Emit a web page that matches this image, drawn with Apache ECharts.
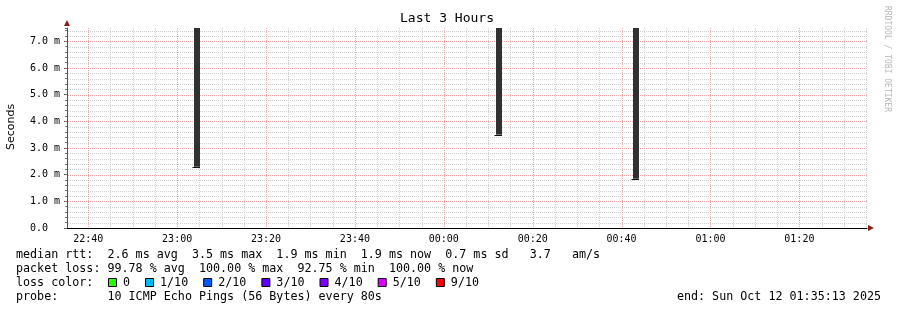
<!DOCTYPE html>
<html><head><meta charset="utf-8">
<script src="https://cdn.jsdelivr.net/npm/echarts@6/dist/echarts.min.js"></script>
<style>html,body{margin:0;padding:0;background:#fff}#c{width:897px;height:310px}</style>
</head><body><div id="c"></div>
<script>
// ---- data ----
const chartTitle = 'Last 3 Hours';
const rangeStart = '2025-10-11T22:35:13Z';
const rangeEnd = '2025-10-12T01:35:13Z';
const xTickLabels = ['22:40', '23:00', '23:20', '23:40', '00:00', '00:20', '00:40', '01:00', '01:20'];
const stepStarts = ['2025-10-11T23:03:50Z', '2025-10-12T00:11:50Z', '2025-10-12T00:42:30Z'];
const stepSeconds = 80;
const medianMs = [2.3, 3.5, 1.85];
const smokeTopMs = [7.5, 7.5, 7.5];
const yTickValues = [0, 1, 2, 3, 4, 5, 6, 7];
const yMin = 0, yMax = 7.5, yMajor = 1, yMinor = 0.2;
const xMinorMin = 5;
const statsLines = [
  'median rtt:  2.6 ms avg  3.5 ms max  1.9 ms min  1.9 ms now  0.7 ms sd   3.7   am/s',
  'packet loss: 99.78 % avg  100.00 % max  92.75 % min  100.00 % now'
];
const lossTitle = 'loss color:';
const lossLabels = ['0', '1/10', '2/10', '3/10', '4/10', '5/10', '9/10'];
const lossColors = ['#26ff00', '#00b8ff', '#0059ff', '#5e00ff', '#7e00ff', '#dd00ff', '#ff0000'];
const probeText = 'probe:       10 ICMP Echo Pings (56 Bytes) every 80s';
const endText = 'end: Sun Oct 12 01:35:13 2025';
const yAxisTitle = 'Seconds';
const watermark = 'RRDTOOL / TOBI OETIKER';

// ---- build ----
const t0 = Date.parse(rangeStart), t1 = Date.parse(rangeEnd);
const day0 = Date.parse(rangeStart.slice(0, 10) + 'T00:00:00Z');
const majorTicks = [];
let prev = -1, dayOff = 0;
xTickLabels.forEach(l => {
  const m = parseInt(l.slice(0, 2), 10) * 60 + parseInt(l.slice(3), 10);
  if (prev >= 0 && m < prev) dayOff += 1440;
  prev = m;
  majorTicks.push(day0 + (m + dayOff) * 60000);
});
const stepMs = xMinorMin * 60000;
const minorTicks = [];
for (let t = majorTicks[0] - stepMs * Math.floor((majorTicks[0] - t0) / stepMs); t <= t1; t += stepMs) {
  if (t >= t0 && majorTicks.indexOf(t) < 0) minorTicks.push(t);
}
const yMinorVals = [];
for (let k = 1; k * yMinor < yMax; k++) {
  const v = Math.round(k * yMinor * 10) / 10;
  if (yTickValues.indexOf(v) < 0) yMinorVals.push(v);
}
const yMajorVals = yTickValues.filter(v => v > yMin);
const barData = stepStarts.map((s, i) => {
  const a = Date.parse(s);
  return [a, a + stepSeconds * 1000, medianMs[i], smokeTopMs[i]];
});
const pad = n => (n < 10 ? '0' : '') + n;
const mono = 'DejaVu Sans Mono';
const gridMajor = '#f3a3a3', gridMinor = '#cfcfcf';

const chart = echarts.init(document.getElementById('c'), null, {renderer: 'canvas'});

const graphics = [];
graphics.push({type: 'text', x: 447, y: 19, style: {text: chartTitle, font: '13px "' + mono + '"', fill: '#000', align: 'center', verticalAlign: 'middle'}});
graphics.push({type: 'text', x: 11, y: 127, rotation: Math.PI / 2, style: {text: yAxisTitle, font: '11px "DejaVu Sans"', fill: '#000', align: 'center', verticalAlign: 'middle'}});
graphics.push({type: 'text', x: 887, y: 59, rotation: -Math.PI / 2, style: {text: watermark, font: '8px "' + mono + '"', fill: '#b8b8b8', align: 'center', verticalAlign: 'middle'}});
graphics.push({type: 'polygon', shape: {points: [[67, 20], [64, 26], [70, 26]]}, style: {fill: '#8b1c1c'}});
graphics.push({type: 'polygon', shape: {points: [[874, 228], [868, 225], [868, 231]]}, style: {fill: '#8b1c1c'}});
const legFont = '11.7px "' + mono + '"';
const charW = 7.04;
const lineY = [254.5, 268.5, 282.5, 296.5];
statsLines.forEach((s, i) => graphics.push({type: 'text', x: 16, y: lineY[i], style: {text: s, font: legFont, fill: '#000', align: 'left', verticalAlign: 'middle'}}));
graphics.push({type: 'text', x: 16, y: lineY[2], style: {text: lossTitle, font: legFont, fill: '#000', align: 'left', verticalAlign: 'middle'}});
let bx = 108;
lossLabels.forEach((lab, i) => {
  graphics.push({type: 'rect', shape: {x: bx + 0.5, y: lineY[2] - 4, width: 8, height: 8}, style: {fill: lossColors[i], stroke: '#000', lineWidth: 1}});
  const tx = bx + 15;
  graphics.push({type: 'text', x: tx, y: lineY[2], style: {text: lab, font: legFont, fill: '#000', align: 'left', verticalAlign: 'middle'}});
  bx = tx + lab.length * charW + 15;
});
graphics.push({type: 'text', x: 16, y: lineY[3], style: {text: probeText, font: legFont, fill: '#000', align: 'left', verticalAlign: 'middle'}});
graphics.push({type: 'text', x: 881, y: lineY[3], style: {text: endText, font: legFont, fill: '#000', align: 'right', verticalAlign: 'middle'}});

const dotted = [1, 1];
// grid lines drawn through the axis scales, snapped to pixel centres
const vLines = (ticks, color, z) => ({
  type: 'custom', xAxisIndex: 0, yAxisIndex: 0, z: z, silent: true, clip: false,
  data: ticks.map(t => [t, yMin]),
  renderItem: (params, api) => {
    const cs = params.coordSys;
    const x = Math.round(api.coord([api.value(0), yMin])[0]) + 0.5;
    return {type: 'line', shape: {x1: x, y1: cs.y, x2: x, y2: cs.y + cs.height},
      style: {stroke: color, lineWidth: 1, lineDash: dotted}};
  }
});
const hLines = (vals, color, z) => ({
  type: 'custom', xAxisIndex: 0, yAxisIndex: 0, z: z, silent: true, clip: false,
  data: vals.map(v => [t0, v]),
  renderItem: (params, api) => {
    const cs = params.coordSys;
    const y = Math.round(api.coord([t0, api.value(1)])[1]) + 0.5;
    return {type: 'line', shape: {x1: cs.x + 1, y1: y, x2: cs.x + cs.width, y2: y},
      style: {stroke: color, lineWidth: 1, lineDash: dotted}};
  }
});
const option = {
  animation: false,
  backgroundColor: '#fff',
  grid: {left: 67, top: 28, width: 800, height: 200, containLabel: false, outerBoundsMode: 'none'},
  xAxis: [
    {type: 'value', position: 'bottom', min: t0, max: t1,
     axisLine: {show: true, onZero: false, lineStyle: {color: '#000', width: 1}},
     axisTick: {show: false},
     axisLabel: {show: true, margin: 6, color: '#000', fontFamily: mono, fontSize: 10,
       customValues: majorTicks,
       formatter: v => { const d = new Date(v); return pad(d.getUTCHours()) + ':' + pad(d.getUTCMinutes()); }},
     splitLine: {show: false}}
  ],
  yAxis: [
    {type: 'value', position: 'left', offset: 0, min: yMin, max: yMax,
     axisLine: {show: true, onZero: false, lineStyle: {color: '#555', width: 1}},
     axisTick: {show: true, length: 3, customValues: yTickValues, lineStyle: {color: '#555'}},
     axisLabel: {show: true, align: 'left', margin: 37, color: '#000', fontFamily: mono, fontSize: 10,
       customValues: yTickValues,
       formatter: v => v === 0 ? '0.0' : v.toFixed(1) + ' m'},
     splitLine: {show: false}},
    {type: 'value', position: 'left', offset: 0, min: yMin, max: yMax, interval: yMinor,
     axisLine: {show: false}, axisLabel: {show: false},
     axisTick: {show: true, inside: false, length: 2, lineStyle: {color: '#777'}},
     splitLine: {show: false}}
  ],
  series: [
    hLines(yMinorVals, gridMinor, 1),
    vLines(minorTicks, gridMinor, 1),
    hLines(yMajorVals, gridMajor, 2),
    vLines(majorTicks, gridMajor, 2),
    {
    type: 'custom', xAxisIndex: 0, yAxisIndex: 0, clip: true, z: 3,
    data: barData,
    renderItem: (params, api) => {
      const pTop = api.coord([api.value(0), api.value(3)]);
      const pBot = api.coord([api.value(1), api.value(2)]);
      const x0 = Math.round(pTop[0]), x1 = Math.round(pBot[0]);
      return {type: 'group', children: [
        {type: 'rect', shape: {x: x0, y: pTop[1], width: x1 - x0, height: pBot[1] - pTop[1]}, style: {fill: '#313131'}},
        {type: 'line', shape: {x1: x0 - 1.5, y1: Math.round(pBot[1]) + 0.5, x2: x1, y2: Math.round(pBot[1]) + 0.5}, style: {stroke: '#111', lineWidth: 1}}
      ]};
    }
  }],
  graphic: graphics
};
chart.setOption(option);
</script></body></html>
